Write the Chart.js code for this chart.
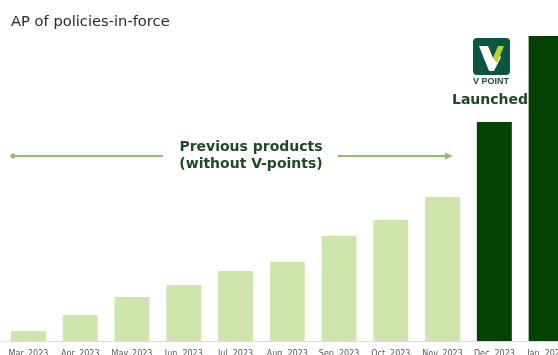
<!DOCTYPE html>
<html>
<head>
<meta charset="utf-8">
<script src="https://cdn.jsdelivr.net/npm/chart.js@4"></script>
<style>
    html, body { margin: 0; padding: 0; background: #fff; width: 558px; height: 355px; overflow: hidden; }
    canvas { display: block; }
</style>
</head>
<body>
<canvas id="apChart" width="573" height="355" style="width:573px;height:355px"></canvas>
<script>
const months = ['Mar. 2023', 'Apr. 2023', 'May. 2023', 'Jun. 2023', 'Jul. 2023', 'Aug. 2023',
    'Sep. 2023', 'Oct. 2023', 'Nov. 2023', 'Dec. 2023', 'Jan. 2024'];
const policiesInForce = [10, 26, 44, 56, 70, 79, 105, 121, 144, 219, 305];
const launchIndex = 9;

const LIGHT_GREEN = '#cee6ac';
const DARK_GREEN = '#034203';
const ARROW_GREEN = '#8cc462';
const TEXT_GREEN = '#1c4a24';

function DrawLogo(ctx) {
    // rounded badge with the V mark
    ctx.fillStyle = '#0b5640';
    ctx.beginPath();
    ctx.roundRect(473, 38, 37, 37, 4);
    ctx.fill();

    ctx.fillStyle = '#ffffff';
    ctx.beginPath();
    ctx.moveTo(479, 46);
    ctx.lineTo(488, 46);
    ctx.lineTo(493, 58);
    ctx.lineTo(496, 52);
    ctx.lineTo(501, 57);
    ctx.lineTo(494, 71);
    ctx.lineTo(489, 71);
    ctx.closePath();
    ctx.fill();

    ctx.fillStyle = '#b9d32c';
    ctx.beginPath();
    ctx.moveTo(498, 46);
    ctx.lineTo(504, 46);
    ctx.lineTo(497, 63);
    ctx.lineTo(493, 58);
    ctx.closePath();
    ctx.fill();

    ctx.fillStyle = '#1e4f3c';
    ctx.font = 'bold 9px "Liberation Sans"';
    ctx.textAlign = 'center';
    ctx.textBaseline = 'middle';
    ctx.fillText('V POINT', 491, 82);
}

const annotations = {
    id: 'annotations',
    afterDraw(chart) {
        const ctx = chart.ctx;
        ctx.save();

        ctx.fillStyle = '#2a2a2a';
        ctx.font = '14.7px "DejaVu Sans"';
        ctx.textAlign = 'left';
        ctx.textBaseline = 'middle';
        ctx.fillText('AP of policies-in-force', 11, 22);

        // arrow running across the earlier products
        ctx.strokeStyle = ARROW_GREEN;
        ctx.fillStyle = ARROW_GREEN;
        ctx.lineWidth = 1.8;
        ctx.beginPath();
        ctx.moveTo(13, 156);
        ctx.lineTo(163, 156);
        ctx.moveTo(338, 156);
        ctx.lineTo(448, 156);
        ctx.stroke();
        ctx.beginPath();
        ctx.arc(13, 156, 2.5, 0, Math.PI * 2);
        ctx.fill();
        ctx.beginPath();
        ctx.moveTo(453, 156);
        ctx.lineTo(445, 152.5);
        ctx.lineTo(445, 159.5);
        ctx.closePath();
        ctx.fill();

        ctx.fillStyle = TEXT_GREEN;
        ctx.font = 'bold 14px "DejaVu Sans"';
        ctx.textAlign = 'center';
        ctx.fillText('Previous products', 251, 147);
        ctx.fillText('(without V-points)', 251, 164);
        ctx.fillText('Launched', 490, 100);

        DrawLogo(ctx);
        ctx.restore();
    }
};

new Chart(document.getElementById('apChart').getContext('2d'), {
    type: 'bar',
    data: {
        labels: months,
        datasets: [{
            data: policiesInForce,
            backgroundColor: policiesInForce.map((v, i) => i >= launchIndex ? DARK_GREEN : LIGHT_GREEN),
            borderWidth: 0,
            categoryPercentage: 1,
            barPercentage: 0.675
        }]
    },
    options: {
        responsive: false,
        animation: false,
        layout: { padding: { left: 2.6, right: 0, top: 0, bottom: 0 } },
        plugins: { legend: { display: false }, tooltip: { enabled: false } },
        scales: {
            x: {
                afterFit(scale) { scale.height = 14; },
                grid: { display: false, drawTicks: false },
                border: { color: '#dcdcdc', width: 1 },
                ticks: {
                    color: '#555',
                    font: { size: 8, family: '"DejaVu Sans"' },
                    maxRotation: 0,
                    autoSkip: false,
                    padding: 8
                }
            },
            y: { display: false, min: 0, max: 341 }
        }
    },
    plugins: [annotations]
});
</script>
</body>
</html>
